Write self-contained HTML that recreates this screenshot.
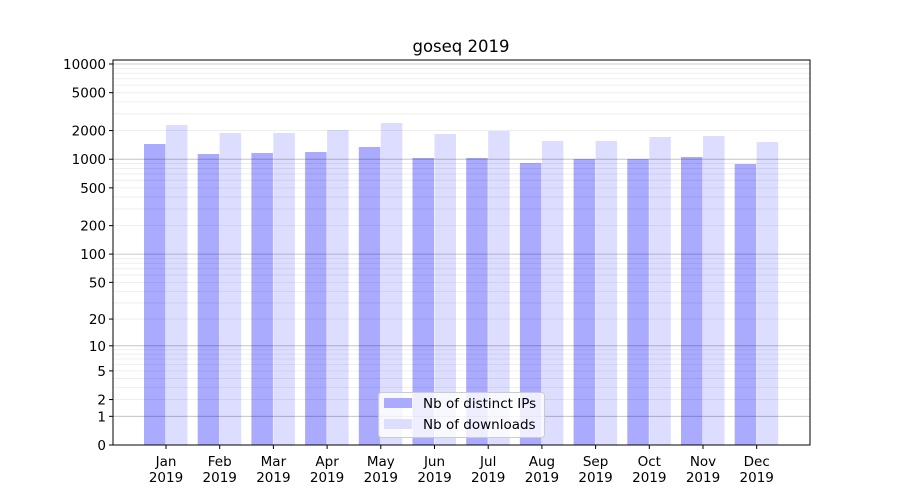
<!DOCTYPE html>
<html><head><meta charset="utf-8"><style>body{margin:0;background:#fff}svg{display:block}text{font-family:"DejaVu Sans","Liberation Sans",sans-serif;fill:#000}</style></head>
<body>
<svg id="s" width="900" height="500" xmlns="http://www.w3.org/2000/svg">
<rect width="900" height="500" fill="#fff"/>
<g id="bars"></g>
<g id="grid"></g>
<rect x="113" y="60" width="697" height="385" fill="none" stroke="#000" stroke-width="1"/>
<g id="ticks" font-size="13.5"></g>
<text x="461" y="52" font-size="16.5" text-anchor="middle">goseq 2019</text>
<g>
<rect x="378.5" y="392.5" width="166" height="45" rx="3" fill="#fff" fill-opacity="0.8" stroke="#ccc"/>
<rect x="384" y="398" width="28" height="10" fill="#aaaaff"/>
<text x="423" y="408" font-size="13.5">Nb of distinct IPs</text>
<rect x="384" y="419" width="28" height="10" fill="#ddddff"/>
<text x="423" y="429" font-size="13.5">Nb of downloads</text>
</g>
</svg>
<script>
var NS="http://www.w3.org/2000/svg";
function el(p,t,a,txt){var e=document.createElementNS(NS,t);for(var k in a)e.setAttribute(k,a[k]);if(txt!==undefined)e.textContent=txt;p.appendChild(e);return e;}
function Y(v){return 445-95.25*Math.log10(1+v);}
var g=document.getElementById("grid");
[1,10,100,1000].forEach(function(d){for(var m=2;m<=9;m++){var y=Y(m*d);el(g,"line",{x1:113,x2:810,y1:y,y2:y,stroke:"#000","stroke-opacity":0.08,"stroke-width":0.8});}});
[1,10,100,1000,10000].forEach(function(v){var y=Y(v);el(g,"line",{x1:113,x2:810,y1:y,y2:y,stroke:"#000","stroke-opacity":0.27,"stroke-width":0.8});});
var b=document.getElementById("bars");
var ip=[144,154,153,152,147,158,158,163,159,159,157,164];
var dl=[125,133,133,130,123,134,131,141,141,137,136,142];
var mo=["Jan","Feb","Mar","Apr","May","Jun","Jul","Aug","Sep","Oct","Nov","Dec"];
var t=document.getElementById("ticks");
for(var i=0;i<12;i++){var c=166+i*53.7;
el(b,"rect",{x:c-22,y:ip[i],width:21.5,height:445-ip[i],fill:"#aaaaff"});
el(b,"rect",{x:c,y:dl[i],width:21.5,height:445-dl[i],fill:"#ddddff"});
el(t,"line",{x1:c,x2:c,y1:445,y2:449,stroke:"#000"});
el(t,"text",{x:c,y:466,"text-anchor":"middle"},mo[i]);
el(t,"text",{x:c,y:482,"text-anchor":"middle"},"2019");}
[0,1,2,5,10,20,50,100,200,500,1000,2000,5000,10000].forEach(function(v){var y=Y(v);
el(t,"line",{x1:109,x2:113,y1:y,y2:y,stroke:"#000"});
el(t,"text",{x:106,y:y+5,"text-anchor":"end"},String(v));});
</script>
</body></html>
